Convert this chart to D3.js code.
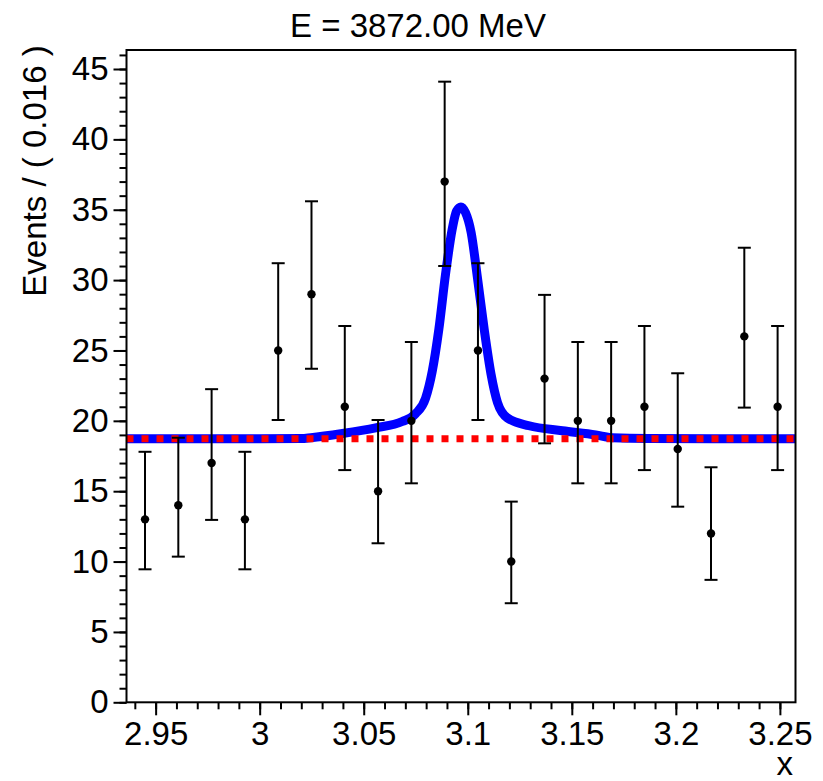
<!DOCTYPE html>
<html>
  <head>
    <meta charset="utf-8">
    <title>E = 3872.00 MeV</title>
    <style>
      body { margin: 0; background: #fff; }
      svg text { font-family: "Liberation Sans", Arial, Helvetica, sans-serif; fill: #000; }
    </style>
  </head>
  <body>
    <div id="vis"></div>
    <script src="https://d3js.org/d3.v7.min.js"></script>
    <script>
    // binned data (bin width 0.016)
    let binCenters = [2.9449, 2.9609, 2.9769, 2.9929, 3.0089, 3.0249, 3.0409, 3.0569, 3.0729, 3.0889,
                      3.1049, 3.1209, 3.1369, 3.1529, 3.1689, 3.1849, 3.2009, 3.2169, 3.2329, 3.2489];
    let counts   = [13, 14, 17, 13, 25, 29, 21, 15, 20, 37, 25, 10, 23, 20, 20, 21, 18, 12, 26, 21];
    let errLow   = [9.45, 10.35, 12.96, 9.45, 20.06, 23.7, 16.5, 11.3, 15.56, 31.0,
                    20.06, 7.04, 18.4, 15.56, 15.56, 16.5, 13.9, 8.7, 20.94, 16.5];
    let errHigh  = [17.8, 18.8, 22.25, 17.8, 31.2, 35.6, 26.74, 20.06, 25.6, 44.1,
                    31.2, 14.26, 28.95, 25.6, 25.6, 26.74, 23.38, 16.7, 32.3, 26.74];

    // fitted total pdf (blue)
    let curveX = [2.936, 3.000, 3.020, 3.0246, 3.0398, 3.0557, 3.0685, 3.0749, 3.0797, 3.0829, 3.0861,
                  3.0893, 3.0925, 3.0946, 3.0967, 3.0989, 3.1016, 3.1048, 3.1080, 3.1112, 3.1143,
                  3.1191, 3.1295, 3.1455, 3.1615, 3.1695, 3.1870, 3.2575];
    let curveY = [18.72, 18.72, 18.74, 18.8, 19.1, 19.5, 19.95, 20.5, 21.6, 23.5, 26.5,
                  30.4, 33.6, 34.9, 35.2, 34.8, 33.4, 30.0, 26.4, 23.3, 21.3,
                  20.2, 19.65, 19.3, 19.0, 18.8, 18.74, 18.72];
    // background component (red dashed)
    let bkgX = [2.936, 3.2575];
    let bkgY = [18.72, 18.72];

    let xTicks = [2.95, 3.0, 3.05, 3.1, 3.15, 3.2, 3.25];
    let xTickLabels = ["2.95", "3", "3.05", "3.1", "3.15", "3.2", "3.25"];
    let yTicks = [0, 5, 10, 15, 20, 25, 30, 35, 40, 45];
    let yTickLabels = ["0", "5", "10", "15", "20", "25", "30", "35", "40", "45"];
    let xMinor = d3.range(294, 326).map(d => d / 100);
    let yMinor = d3.range(0, 47);

    let titleText = "E = 3872.00 MeV";
    let yTitle = "Events / ( 0.016 )";
    let xTitle = "x";

    let w = 823, h = 781;
    let fLeft = 126.5, fRight = 795.5, fTop = 50, fBottom = 702.3;

    let svg = d3.select("#vis").append("svg")
                .attr("width", w)
                .attr("height", h);

    let x = d3.scaleLinear().domain([2.936, 3.2575]).range([fLeft, fRight]);
    let y = d3.scaleLinear().domain([0, 46.35]).range([fBottom, fTop]);

    // minor ticks
    svg.append("g")
       .attr("transform", "translate(0," + fBottom + ")")
       .call(d3.axisBottom(x).tickValues(xMinor).tickSize(7).tickFormat(""))
       .call(g => g.select(".domain").remove())
       .call(g => g.selectAll("line").attr("stroke-width", 2));
    svg.append("g")
       .attr("transform", "translate(" + fLeft + ",0)")
       .call(d3.axisLeft(y).tickValues(yMinor).tickSize(7).tickFormat(""))
       .call(g => g.select(".domain").remove())
       .call(g => g.selectAll("line").attr("stroke-width", 2));

    // major ticks + labels
    svg.append("g")
       .attr("transform", "translate(0," + fBottom + ")")
       .call(d3.axisBottom(x).tickValues(xTicks).tickSize(13).tickPadding(6)
               .tickFormat((d, i) => xTickLabels[i]))
       .call(g => g.select(".domain").remove())
       .call(g => g.selectAll("line").attr("stroke-width", 2))
       .call(g => g.selectAll("text").attr("font-size", 33)
                   .style("font-family", "'Liberation Sans', Arial, sans-serif"));
    svg.append("g")
       .attr("transform", "translate(" + fLeft + ",0)")
       .call(d3.axisLeft(y).tickValues(yTicks).tickSize(13).tickPadding(5)
               .tickFormat((d, i) => yTickLabels[i]))
       .call(g => g.select(".domain").remove())
       .call(g => g.selectAll("line").attr("stroke-width", 2))
       .call(g => g.selectAll("text").attr("font-size", 33)
                   .style("font-family", "'Liberation Sans', Arial, sans-serif"));

    // curves
    svg.append("clipPath").attr("id", "frame")
       .append("rect").attr("x", fLeft).attr("y", fTop)
       .attr("width", fRight - fLeft).attr("height", fBottom - fTop);

    let line = d3.line().x(d => x(d[0])).y(d => y(d[1])).curve(d3.curveMonotoneX);

    svg.append("path")
       .datum(curveX.map((v, i) => [v, curveY[i]]))
       .attr("clip-path", "url(#frame)")
       .attr("d", line)
       .attr("fill", "none")
       .attr("stroke", "#0000ff")
       .attr("stroke-width", 9);

    svg.append("path")
       .datum(bkgX.map((v, i) => [v, bkgY[i]]))
       .attr("clip-path", "url(#frame)")
       .attr("d", line)
       .attr("fill", "none")
       .attr("stroke", "#ff0000")
       .attr("stroke-width", 7)
       .attr("stroke-dasharray", "7,8");

    // data points with error bars
    let data = binCenters.map((c, i) => ({x: c, n: counts[i], lo: errLow[i], hi: errHigh[i]}));
    let pts = svg.append("g").attr("stroke", "#000").attr("stroke-width", 2);
    pts.selectAll("line.bar").data(data).enter().append("line")
       .attr("x1", d => x(d.x)).attr("x2", d => x(d.x))
       .attr("y1", d => y(d.lo)).attr("y2", d => y(d.hi));
    pts.selectAll("line.capHi").data(data).enter().append("line")
       .attr("x1", d => x(d.x) - 6.5).attr("x2", d => x(d.x) + 6.5)
       .attr("y1", d => y(d.hi)).attr("y2", d => y(d.hi));
    pts.selectAll("line.capLo").data(data).enter().append("line")
       .attr("x1", d => x(d.x) - 6.5).attr("x2", d => x(d.x) + 6.5)
       .attr("y1", d => y(d.lo)).attr("y2", d => y(d.lo));
    svg.selectAll("circle").data(data).enter().append("circle")
       .attr("cx", d => x(d.x))
       .attr("cy", d => y(d.n))
       .attr("r", 4.2)
       .style("fill", "#000");

    // frame
    svg.append("rect")
       .attr("x", fLeft).attr("y", fTop)
       .attr("width", fRight - fLeft).attr("height", fBottom - fTop)
       .attr("fill", "none")
       .attr("stroke", "#000")
       .attr("stroke-width", 2);

    // titles
    svg.append("text")
       .attr("x", 418).attr("y", 37)
       .attr("text-anchor", "middle")
       .attr("font-size", 33)
       .text(titleText);

    svg.append("text")
       .attr("transform", "translate(46,171) rotate(-90)")
       .attr("text-anchor", "middle")
       .attr("font-size", 33)
       .text(yTitle);

    svg.append("text")
       .attr("x", 793).attr("y", 775)
       .attr("text-anchor", "end")
       .attr("font-size", 33)
       .text(xTitle);
    </script>
  </body>
</html>
